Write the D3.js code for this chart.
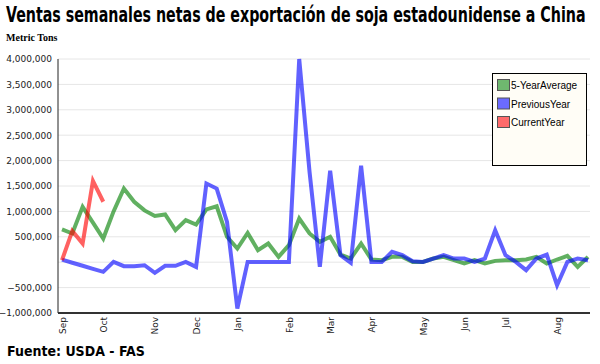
<!DOCTYPE html>
<html>
<head>
<meta charset="utf-8">
<script src="https://cdn.jsdelivr.net/npm/d3@7"></script>
<style>
  html, body { margin: 0; padding: 0; background: #fff; }
  svg { display: block; }
</style>
</head>
<body>
<svg id="chart" width="600" height="364"></svg>
<script>
// ---- data ----
const weeks = d3.range(52);
const monthLabels = ["Sep","Oct","Nov","Dec","Jan","Feb","Mar","Apr","May","Jun","Jul","Aug"];
const monthWeeks  = [0, 4, 9, 13, 17, 22, 26, 30, 35, 39, 43, 48];
const yTicks = [-1000000, -500000, 0, 500000, 1000000, 1500000, 2000000, 2500000, 3000000, 3500000, 4000000];
const seriesNames = ["5-YearAverage", "PreviousYear", "CurrentYear"];

const fiveYearAverage = [644000, 565000, 1090000, 780000, 466000, 1000000, 1450000, 1190000, 1020000, 910000,
  940000, 630000, 827000, 742000, 1040000, 1100000, 500000, 270000, 577000, 236000,
  368000, 105000, 335000, 860000, 565000, 400000, 500000, 150000, 72000, 368000,
  53000, 40000, 105000, 105000, 6000, 6000, 72000, 105000, 40000, -26000,
  40000, -26000, 26000, 40000, 40000, 53000, 105000, -26000, 53000, 124000,
  -92000, 105000];
const previousYear = [50000, -10000, -70000, -130000, -190000, 6000, -79000, -79000, -59000, -210000,
  -72000, -72000, 6000, -92000, 1550000, 1450000, 793000, -911000, 6000, 6000,
  6000, 6000, 6000, 4000000, 1780000, -92000, 1800000, 138000, -13000, 1900000,
  6000, 6000, 203000, 138000, 20000, 6000, 72000, 138000, 72000, 72000,
  6000, 72000, 630000, 138000, 6000, -157000, 72000, 150000, -453000, 6000,
  72000, 40000];
const currentYear = [40000, 616000, 368000, 1600000, 1190000];

const colors = ["rgb(0,128,0)", "rgb(0,0,255)", "rgb(255,0,0)"];
const swatchColors = ["#6fb86f", "#6b6bff", "#ff6b6b"];

// ---- layout ----
const svg = d3.select("#chart");
const mLeft = 58, mRight = 590, mTop = 59, mBottom = 313;

const x = d3.scalePoint().domain(weeks).range([62, 588]);
const y = d3.scaleLinear().domain([-1000000, 4000000]).range([mBottom, mTop]);

// title (scaled horizontally to fit the width)
const tg = svg.append("g");
const title = tg.append("text")
  .attr("x", 0).attr("y", 0)
  .style("font-family", "'Liberation Sans Narrow', 'DejaVu Sans Condensed', sans-serif")
  .style("font-weight", "bold").style("font-size", "21px").attr("fill", "#000")
  .text("Ventas semanales netas de exportación de soja estadounidense a China");
const natW = title.node().getComputedTextLength();
const sx = Math.min(1, 580 / natW);
tg.attr("transform", `translate(6,22) scale(${sx},1)`);

svg.append("text")
  .attr("x", 6).attr("y", 41)
  .style("font-family", "'Liberation Serif', serif")
  .style("font-weight", "bold").style("font-size", "10px").attr("fill", "#000")
  .text("Metric Tons");

// gridlines
svg.append("g").selectAll("line").data(yTicks).join("line")
  .attr("x1", mLeft).attr("x2", mRight)
  .attr("y1", d => y(d)).attr("y2", d => y(d))
  .attr("stroke", "#e6e6e6").attr("stroke-width", 1);

// y axis
const yAxis = d3.axisLeft(y).tickValues(yTicks.filter(d => d !== 0))
  .tickFormat(d3.format(",")).tickSize(0).tickPadding(6);
const gy = svg.append("g").attr("transform", `translate(${mLeft},0)`).call(yAxis);
gy.select(".domain").remove();
gy.selectAll("text").style("font-family", "'DejaVu Sans', sans-serif")
  .style("font-size", "9px").attr("fill", "#222");
svg.append("line").attr("x1", mLeft).attr("x2", mLeft).attr("y1", mTop).attr("y2", mBottom)
  .attr("stroke", "#222").attr("stroke-width", 1);

// x axis
const xAxis = d3.axisBottom(x).tickValues(monthWeeks)
  .tickFormat(d => monthLabels[monthWeeks.indexOf(d)]).tickSize(0);
const gx = svg.append("g").attr("transform", `translate(0,${mBottom})`).call(xAxis);
gx.select(".domain").remove();
gx.selectAll("text")
  .style("font-family", "'DejaVu Sans', sans-serif").style("font-size", "9px").attr("fill", "#222")
  .attr("text-anchor", "end").attr("dy", "0.35em")
  .attr("transform", "translate(0,4) rotate(-90)")
  .attr("x", 0).attr("y", 0);
svg.append("line").attr("x1", mLeft).attr("x2", mRight).attr("y1", mBottom).attr("y2", mBottom)
  .attr("stroke", "#333").attr("stroke-width", 2);

// lines
const line = d3.line().x((d, i) => x(weeks[i])).y(d => y(d));
[fiveYearAverage, previousYear, currentYear].forEach((s, k) => {
  svg.append("path").datum(s)
    .attr("d", line)
    .attr("fill", "none")
    .attr("stroke", colors[k])
    .attr("stroke-opacity", 0.62)
    .attr("stroke-width", 4)
    .attr("stroke-linejoin", "miter");
});

// legend
const lg = svg.append("g").attr("transform", "translate(492,73)");
lg.append("rect").attr("x", 0.5).attr("y", 0.5).attr("width", 94).attr("height", 92)
  .attr("fill", "#fffdf6").attr("stroke", "#000").attr("stroke-width", 1);
seriesNames.forEach((n, i) => {
  const g = lg.append("g").attr("transform", `translate(5,${6 + i * 18.5})`);
  g.append("rect").attr("x", 0.5).attr("y", 0.5).attr("width", 12).attr("height", 11)
    .attr("fill", swatchColors[i]).attr("stroke", "#555").attr("stroke-width", 1);
  g.append("text").attr("x", 14).attr("y", 10)
    .style("font-family", "'Liberation Sans', sans-serif").style("font-size", "10px")
    .attr("fill", "#000").text(n);
});

// source
svg.append("text")
  .attr("x", 7).attr("y", 356)
  .style("font-family", "'Liberation Sans Narrow', 'DejaVu Sans Condensed', sans-serif")
  .style("font-weight", "bold").style("font-size", "14px").attr("fill", "#000")
  .text("Fuente: USDA - FAS");
</script>
</body>
</html>
